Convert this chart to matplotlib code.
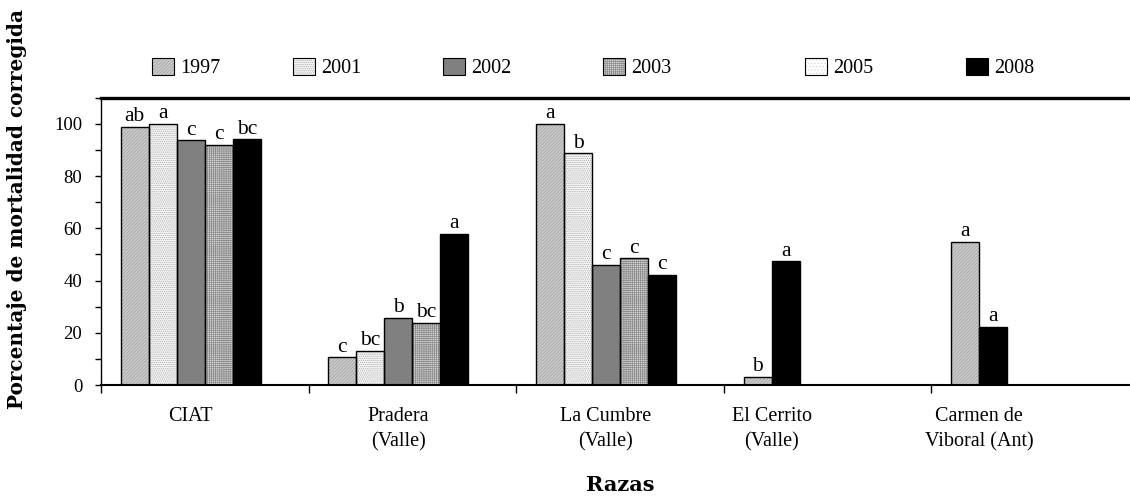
import numpy as np
import matplotlib
matplotlib.use("Agg")
import matplotlib.pyplot as plt
from matplotlib.patches import Patch

plt.rcParams["font.family"] = ["Liberation Serif", "DejaVu Serif"]
plt.rcParams["hatch.linewidth"] = 0.5

# razas (sitios) y años evaluados
categories = ["CIAT", "Pradera\n(Valle)", "La Cumbre\n(Valle)",
              "El Cerrito\n(Valle)", "Carmen de\nViboral (Ant)"]
years = ["1997", "2001", "2002", "2003", "2005", "2008"]

ciat_years = ["1997", "2001", "2002", "2003", "2008"]
ciat_vals = [98.8, 100.0, 93.7, 91.9, 94.0]
ciat_letters = ["ab", "a", "c", "c", "bc"]

pradera_years = ["1997", "2001", "2002", "2003", "2008"]
pradera_vals = [10.6, 13.2, 25.7, 23.9, 58.0]
pradera_letters = ["c", "bc", "b", "bc", "a"]

cumbre_years = ["1997", "2001", "2002", "2003", "2008"]
cumbre_vals = [100.0, 88.7, 45.9, 48.5, 42.3]
cumbre_letters = ["a", "b", "c", "c", "c"]

cerrito_years = ["1997", "2008"]
cerrito_vals = [3.2, 47.4]
cerrito_letters = ["b", "a"]

carmen_years = ["1997", "2008"]
carmen_vals = [54.7, 22.2]
carmen_letters = ["a", "a"]

groups = [
    (ciat_years, ciat_vals, ciat_letters),
    (pradera_years, pradera_vals, pradera_letters),
    (cumbre_years, cumbre_vals, cumbre_letters),
    (cerrito_years, cerrito_vals, cerrito_letters),
    (carmen_years, carmen_vals, carmen_letters),
]

# relleno de cada año: (color de fondo, trama, color de trama)
styles = {
    "1997": ("#cdcdcd", "/" * 10, "#9c9c9c"),
    "2001": ("#f4f4f4", "." * 8, "#a8a8a8"),
    "2002": ("#808080", None, None),
    "2003": ("#d8d8d8", "+" * 8, "#8a8a8a"),
    "2005": ("#ffffff", "." * 5, "#d4d4d4"),
    "2008": ("#000000", None, None),
}

fig = plt.figure(figsize=(11.3, 5.04), dpi=100)
ax = fig.add_axes([101 / 1130, 1 - 385 / 504, 1038 / 1130, 287.3 / 504])

width = 0.135
centers = []
for i, (yrs, vals, letters) in enumerate(groups):
    start = i + 0.5 - 3 * width
    x = start + np.arange(len(yrs)) * width
    for xi, yr, v, lab in zip(x, yrs, vals, letters):
        fc, hatch, hc = styles[yr]
        ax.bar(xi, v, width, align="edge", color=fc, hatch=hatch,
               edgecolor=hc if hc else fc, linewidth=0, zorder=2)
        ax.bar(xi, v, width, align="edge", facecolor="none",
               edgecolor="black", linewidth=1.0, zorder=3)
        ax.annotate(lab, (xi + width / 2, v), xytext=(0, 0.5),
                    textcoords="offset points", ha="center", va="bottom",
                    fontsize=15.5)
    centers.append(start + len(yrs) * width / 2)

ax.set_xlim(0, 5)
ax.set_ylim(0, 110)

ax.set_xticks(centers)
ax.set_xticklabels(categories, fontsize=14.5, linespacing=1.4)
ax.set_xticks(np.arange(0, 6), minor=True)
ax.tick_params(axis="x", which="major", length=0, pad=16)
ax.tick_params(axis="x", which="minor", length=6, width=1.0, direction="out")

ax.set_yticks(np.arange(0, 101, 20))
ax.set_yticks(np.arange(10, 111, 20), minor=True)
ax.tick_params(axis="y", which="both", length=4.5, width=1.0,
               direction="out", labelsize=13.5, pad=9)

ax.spines["right"].set_visible(False)
ax.spines["top"].set_linewidth(2.4)
ax.spines["bottom"].set_linewidth(1.5)
ax.spines["left"].set_linewidth(1.0)

ax.set_xlabel("Razas", fontsize=15, fontweight="bold",
              family="DejaVu Serif", labelpad=17)
fig.text(17 / 1130, 1 - 209 / 504, "Porcentaje de mortalidad corregida",
         rotation=90, ha="center", va="center", fontsize=14.4,
         fontweight="bold", family="DejaVu Serif")

# leyenda: una entrada por año, trama gris encima de un contorno negro
legend_left = [152, 293, 443, 603, 805, 966]
for yr, left in zip(years, legend_left):
    fc, hatch, hc = styles[yr]
    fill = Patch(facecolor=fc, hatch=hatch, edgecolor=hc if hc else fc,
                 linewidth=0)
    edge = Patch(facecolor="none", edgecolor="black", linewidth=0.8)
    fig.legend([(fill, edge)], [yr], loc="center left", frameon=False,
               bbox_to_anchor=(left / 1130, 1 - 68 / 504), fontsize=14.5,
               handlelength=1.1, handleheight=0.9, handletextpad=0.3,
               borderpad=0, borderaxespad=0)

fig.savefig("out.png", dpi=100)
